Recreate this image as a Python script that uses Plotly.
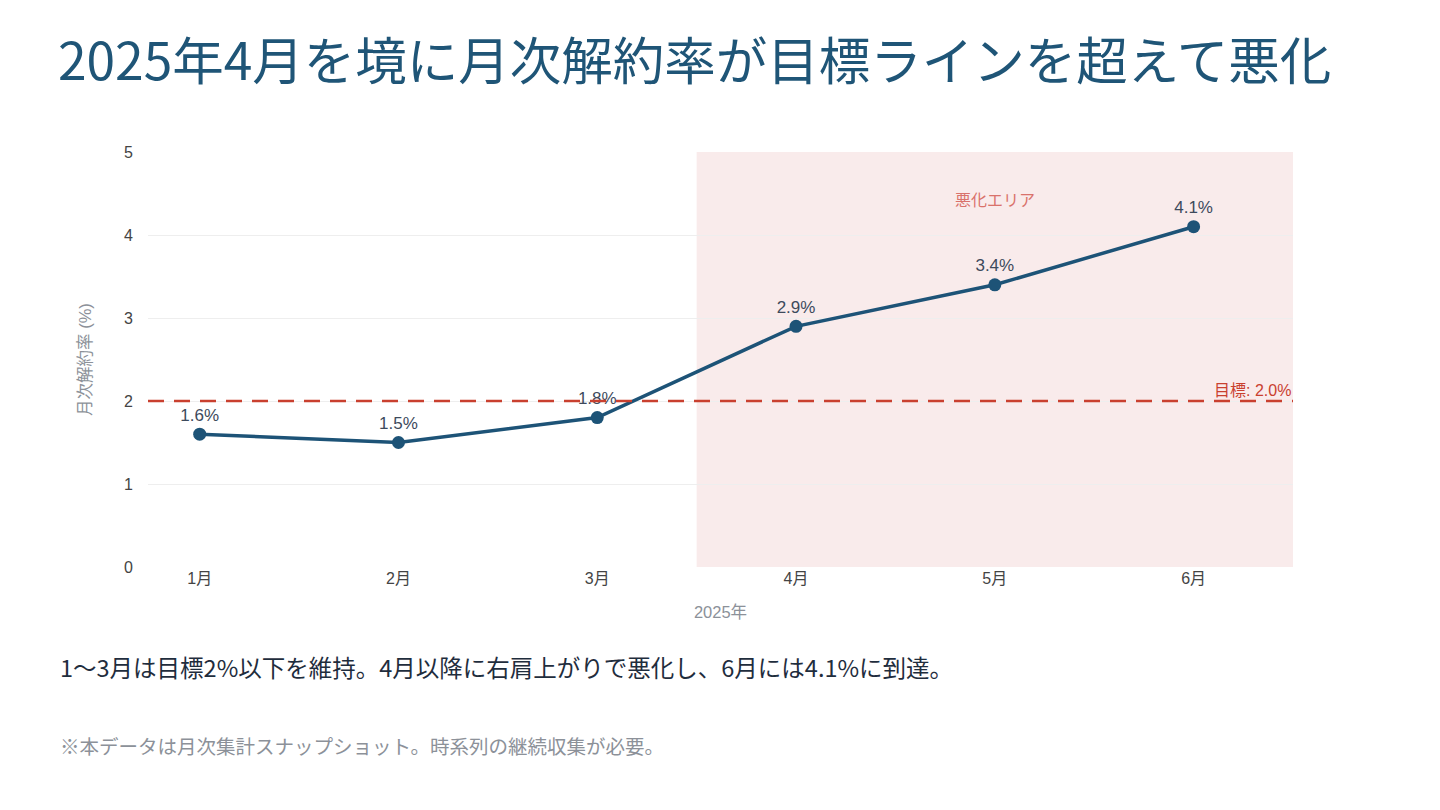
import plotly.graph_objects as go

# data
months = ['1月', '2月', '3月', '4月', '5月', '6月']
churn_rate = [1.6, 1.5, 1.8, 2.9, 3.4, 4.1]
target_rate = 2.0

title_text = '2025年4月を境に月次解約率が目標ラインを超えて悪化'
summary_text = '1〜3月は目標2%以下を維持。4月以降に右肩上がりで悪化し、6月には4.1%に到達。'
note_text = '※本データは月次集計スナップショット。時系列の継続収集が必要。'

cjk_font = 'Noto Sans CJK JP'
chart_font = 'Liberation Sans, Noto Sans CJK JP'

fig = go.Figure()

fig.add_trace(go.Scatter(
    x=months,
    y=churn_rate,
    mode='lines+markers+text',
    text=[f'{v:.1f}%' for v in churn_rate],
    textposition='top center',
    textfont=dict(size=17, color='#3d4a5c', family=chart_font),
    line=dict(color='#1d5377', width=3.5),
    marker=dict(color='#1d5377', size=13),
    showlegend=False,
    cliponaxis=False,
))

# worsening area from April onwards
fig.add_shape(type='rect', xref='x', yref='y', x0=2.5, x1=5.5, y0=0, y1=5,
              fillcolor='#f9ebeb', line_width=0, layer='below')

# target line
fig.add_shape(type='line', xref='paper', yref='y', x0=0, x1=1, y0=target_rate, y1=target_rate,
              line=dict(color='#c9402f', width=2.5, dash='16px,10px'))

fig.add_annotation(x=1, xref='paper', y=target_rate, yref='y', text=f'目標: {target_rate:.1f}%',
                   showarrow=False, xanchor='right', yanchor='bottom',
                   font=dict(size=16, color='#c9402f', family=chart_font))
fig.add_annotation(x=4, y=4.42, xref='x', yref='y', text='悪化エリア', showarrow=False,
                   font=dict(size=16, color='#d9726b', family=chart_font))

fig.add_annotation(x=-0.0786, y=-0.241, xref='paper', yref='paper', text=summary_text,
                   showarrow=False, xanchor='left', yanchor='middle',
                   font=dict(size=23.5, color='#1f2d3d', family=cjk_font))
fig.add_annotation(x=-0.0786, y=-0.431, xref='paper', yref='paper', text=note_text,
                   showarrow=False, xanchor='left', yanchor='middle',
                   font=dict(size=19.5, color='#8c9199', family=cjk_font))

fig.update_layout(
    width=1440, height=810,
    paper_bgcolor='white', plot_bgcolor='white',
    margin=dict(l=140, r=155, t=144, b=251),
    font=dict(family=chart_font, color='#444444', size=16),
    title=dict(text=title_text, x=0.0347, xanchor='left', xref='container',
               y=0.933, yanchor='middle', yref='container',
               font=dict(size=51.5, color='#1f5577', family=cjk_font)),
)

fig.update_xaxes(
    type='category', range=[-0.26, 5.5], showgrid=False, zeroline=False, showline=False,
    ticks='', tickfont=dict(size=16, color='#444444'),
    title=dict(text='2025年', font=dict(size=16.5, color='#8c9199'), standoff=20),
)
fig.update_yaxes(
    range=[0, 5], dtick=1, showgrid=True, gridcolor='#eeeeee', zeroline=False, showline=False,
    ticks='', tickfont=dict(size=16, color='#444444'), ticklabelstandoff=14,
    title=dict(text='月次解約率 (%)', font=dict(size=16.5, color='#8c9199'), standoff=28),
)

fig.write_html('out.html')
